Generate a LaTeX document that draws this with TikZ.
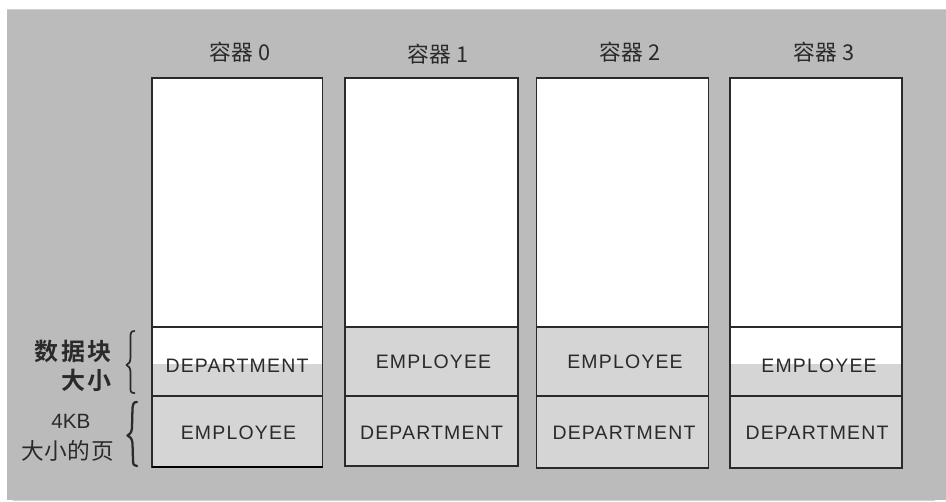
\documentclass[tikz,border=0pt]{standalone}
\usepackage{fontspec}
\setmainfont{Liberation Sans}
\newfontfamily\latinsp[LetterSpace=6]{Liberation Sans}
\newfontfamily\cjk[LetterSpace=2]{Noto Sans CJK SC}
\newfontfamily\cjkwide[LetterSpace=10,BoldFont={Noto Sans CJK SC Bold},BoldFeatures={LetterSpace=10}]{Noto Sans CJK SC}
\definecolor{bggrey}{HTML}{BBBBBB}
\definecolor{cellgrey}{HTML}{D5D5D5}
\definecolor{edgegrey}{HTML}{D0D0D0}
\definecolor{inkdark}{HTML}{2A2A2A}
\tikzset{
  x=0.75pt,y=-0.75pt,
  boxline/.style={draw=inkdark,line width=1.35pt},
  divline/.style={draw=inkdark,line width=1.2pt},
  celltext/.style={font=\fontsize{14.6}{16}\selectfont\latinsp,text=inkdark,inner sep=0pt,anchor=center},
  headtext/.style={font=\fontsize{16.3}{18}\selectfont\cjk,text=inkdark,inner sep=0pt,anchor=center},
  sidetext/.style={font=\fontsize{17}{18}\selectfont\cjk,text=inkdark,inner sep=0pt,anchor=east},
  sidebold/.style={font=\fontsize{18}{20}\selectfont\cjkwide\bfseries,text=inkdark,inner sep=0pt,anchor=east},
  bracecurve/.style={draw=inkdark,line width=1.3pt,line cap=round,line join=round},
}
\newcommand{\bucket}[4]{% x0,x1,bottom,fillTop
  \fill[white] (#1,78) rectangle (#2,#4);
  \fill[cellgrey] (#1,#4) rectangle (#2,#3);
  \draw[divline] (#1,327) -- (#2,327);
  \draw[divline] (#1,396) -- (#2,396);
  \draw[boxline] (#1,78) rectangle (#2,#3);
}
\begin{document}
\begin{tikzpicture}
\useasboundingbox (0,0) rectangle (946,502);
\fill[white] (0,0) rectangle (946,502);
\fill[edgegrey] (7,9) rectangle (946,10);
\fill[bggrey] (7,10) rectangle (946,500);
\fill[edgegrey] (13,500) rectangle (935,501);

\bucket{152}{322.5}{467}{364}
\draw[draw=black,line width=1.8pt] (152,467) -- (322.5,467);
\bucket{345}{518}{466}{327}
\bucket{536.5}{708.5}{468}{327}
\bucket{730}{902}{468}{364}

\node[headtext] (h0) at (240,52) {容器 0};
\node[headtext] (h1) at (438,54) {容器 1};
\node[headtext] (h2) at (630,52) {容器 2};
\node[headtext] (h3) at (824,52) {容器 3};

\node[celltext] (c0u) at (237,366) {DEPARTMENT};
\node[celltext] (c0l) at (238.5,433) {EMPLOYEE};
\node[celltext] (c1u) at (433.5,362) {EMPLOYEE};
\node[celltext] (c1l) at (431.5,433) {DEPARTMENT};
\node[celltext] (c2u) at (625,362) {EMPLOYEE};
\node[celltext] (c2l) at (624,433) {DEPARTMENT};
\node[celltext] (c3u) at (819,366) {EMPLOYEE};
\node[celltext] (c3l) at (817,433) {DEPARTMENT};

\node[sidebold] (s1) at (112,351) {数据块};
\node[sidebold] (s2) at (112,380) {大小};
\node[font=\fontsize{15.5}{18}\selectfont,text=inkdark,inner sep=0pt] (s3) at (71,421) {4KB};
\node[sidetext] (s4) at (114,451) {大小的页};

\draw[bracecurve] (134.5,331) .. controls (131,331) and (130.5,333) .. (130.5,337)
  -- (130.5,357) .. controls (130.5,362) and (129,364) .. (126.5,365)
  .. controls (129,366) and (130.5,368) .. (130.5,373)
  -- (130.5,388) .. controls (130.5,392) and (131,393) .. (134.5,393);
\draw[bracecurve,line width=1.7pt] (137,402) .. controls (133.5,402) and (133,404) .. (132.5,408)
  -- (132,428) .. controls (131.5,433) and (129.5,434.5) .. (127.5,435.5)
  .. controls (129.5,436.5) and (132,438) .. (132.5,443)
  -- (133,460) .. controls (133,465) and (134,466) .. (137,466);
\end{tikzpicture}
\end{document}
